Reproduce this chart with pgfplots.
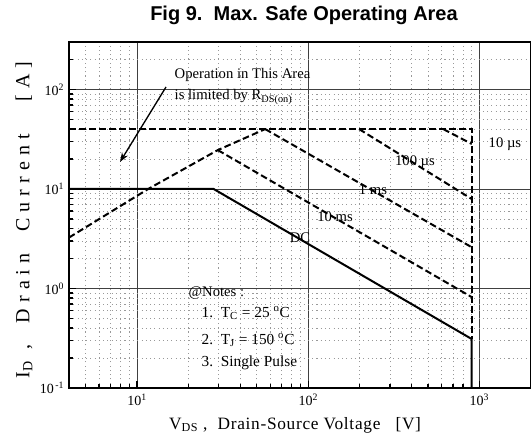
\documentclass[border=0pt]{standalone}
\usepackage{fontspec}
\setmainfont{Liberation Serif}
\newfontfamily\titlefont{Liberation Sans}
\usepackage{pgfplots}
\pgfplotsset{compat=1.18}
\usetikzlibrary{arrows.meta}
\begin{document}
\begin{tikzpicture}
\useasboundingbox (-51.75pt,-41.25pt) rectangle (346.5pt,291pt);
\begin{axis}[
  scale only axis, width=346.5pt, height=259.5pt,
  xmode=log, ymode=log,
  xmin=4, xmax=2000, ymin=0.1, ymax=300,
  axis line style={line width=1.1pt},
  grid=both,
  major grid style={line width=0.5pt, black!75},
  minor grid style={dash pattern=on 0.8pt off 2.4pt, line width=0.5pt, black!40},
  tick align=inside, tick pos=left,
  major tick length=5pt, minor tick length=3pt,
  every tick/.style={line width=1pt, black},
  xtick={10,100,1000},
  xticklabels={10\textsuperscript{1},10\textsuperscript{2},10\textsuperscript{3}},
  ytick={0.1,1,10,100},
  yticklabels={10\textsuperscript{\,-1},10\textsuperscript{0},10\textsuperscript{1},10\textsuperscript{2}},
  minor xtick={5,6,7,8,9,20,30,40,50,60,70,80,90,200,300,400,500,600,700,800,900,2000},
  minor ytick={0.2,0.3,0.4,0.5,0.6,0.7,0.8,0.9,2,3,4,5,6,7,8,9,20,30,40,50,60,70,80,90,200,300},
  tick label style={font=\fontsize{10.5}{10.5}\selectfont},
  xticklabel style={yshift=-1pt},
]
% DC
\addplot[line width=1.5pt, black] coordinates {(4,10) (28,10) (900,0.311) (900,0.1)};
% 40 A limit + vertical
\addplot[line width=1.5pt, black, dash pattern=on 5pt off 2.5pt] coordinates {(4,40) (900,40) (900,0.311)};
% RDS(on)
\addplot[line width=1.5pt, black, dash pattern=on 5pt off 2.5pt] coordinates {(4,3.25) (11.6,10) (29.6,24.6) (56,40)};
% 10 us
\addplot[line width=1.5pt, black, dash pattern=on 5pt off 2.5pt] coordinates {(614,40) (900,28.4)};
% 100 us
\addplot[line width=1.5pt, black, dash pattern=on 5pt off 2.5pt] coordinates {(198,40) (900,7.94)};
% 1 ms
\addplot[line width=1.5pt, black, dash pattern=on 5pt off 2.5pt] coordinates {(56,40) (900,2.6)};
% 10 ms
\addplot[line width=1.5pt, black, dash pattern=on 5pt off 2.5pt] coordinates {(29.6,24.6) (900,0.82)};
\end{axis}
\begin{scope}[x=0.75pt,y=-0.75pt,xshift=-51.75pt,yshift=291pt]
\node[font=\titlefont\bfseries\fontsize{15}{15}\selectfont] at (304,15) {Fig 9.\ \ Max. Safe Operating Area};
\node[font=\fontsize{11}{11}\selectfont, anchor=west] at (170,75) {Operation in This Area};
\node[font=\fontsize{11}{11}\selectfont, anchor=west] at (170,97) {is limited by R\textsubscript{DS(on)}};
\draw[line width=1pt, -{Stealth[length=7pt,width=5pt]}] (166,87) -- (120,162);
\node[font=\fontsize{11}{11}\selectfont, anchor=west] at (484,144) {10 µs};
\node[font=\fontsize{11}{11}\selectfont] at (415,162) {100 µs};
\node[font=\fontsize{11}{11}\selectfont] at (373,190) {1 ms};
\node[font=\fontsize{11}{11}\selectfont] at (335,217) {10 ms};
\node[font=\fontsize{11}{11}\selectfont] at (300,238) {DC};
\node[font=\fontsize{11}{11}\selectfont, anchor=west] at (184,293) {@Notes :};
\node[font=\fontsize{11.5}{11.5}\selectfont, anchor=west] at (197,313) {1.\ \ T\textsubscript{C} = 25 \textsuperscript{o}C};
\node[font=\fontsize{11.5}{11.5}\selectfont, anchor=west] at (197,340) {2.\ \ T\textsubscript{J} = 150 \textsuperscript{o}C};
\node[font=\fontsize{11.5}{11.5}\selectfont, anchor=west] at (197,363) {3.\ \ Single Pulse};
\node[font=\fontsize{13}{13}\selectfont\addfontfeature{LetterSpace=4}] at (295,425) {V\textsubscript{DS} ,\ \ Drain-Source Voltage\ \ \ [V]};
\node[font=\fontsize{15}{15}\selectfont\addfontfeature{LetterSpace=30}, rotate=90] at (24,220) {I\textsubscript{D} ,\ \ Drain\ \ Current\ \ \ [A]};
\end{scope}
\end{tikzpicture}
\end{document}
